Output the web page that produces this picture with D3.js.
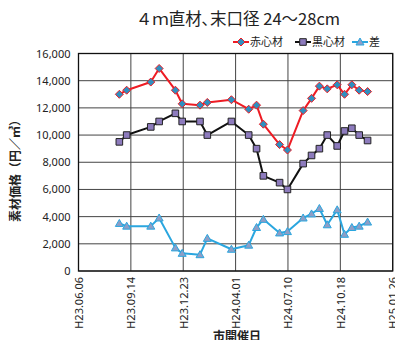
<!DOCTYPE html>
<html>
<head>
<meta charset="utf-8">
<script src="https://cdn.jsdelivr.net/npm/d3@7"></script>
<style>
  html, body { margin: 0; padding: 0; background: #fff; }
  svg { display: block; }
  text { font-family: "Noto Sans CJK JP", "Noto Sans", sans-serif; fill: #222; }
</style>
</head>
<body>
<svg id="chart" width="395" height="340"></svg>
<script>
// Market days (市開催日)
const marketDates = [
  "2011-08-23", "2011-09-06", "2011-10-22", "2011-11-07", "2011-12-08",
  "2011-12-21", "2012-01-24", "2012-02-07", "2012-03-24", "2012-04-26",
  "2012-05-11", "2012-05-24", "2012-06-24", "2012-07-09", "2012-08-08",
  "2012-08-24", "2012-09-08", "2012-09-23", "2012-10-12", "2012-10-26",
  "2012-11-09", "2012-11-23", "2012-12-09"
];
// 赤心材 prices (円/㎥)
const akashinzai = [
  13000, 13300, 13900, 14900, 13300, 12300, 12200, 12400, 12600, 11900,
  12200, 10800, 9300, 8900, 11800, 12700, 13600, 13400, 13700, 13000,
  13700, 13300, 13200
];
// 黒心材 prices (円/㎥)
const kuroshinzai = [
  9500, 10000, 10600, 11000, 11600, 11000, 11000, 10000, 11000, 10000,
  9000, 7000, 6500, 6000, 7900, 8500, 9000, 10000, 9200, 10300,
  10500, 10000, 9600
];
// 差 (difference)
const sa = [
  3500, 3300, 3300, 3900, 1700, 1300, 1200, 2400, 1600, 1900,
  3200, 3800, 2800, 2900, 3900, 4200, 4600, 3400, 4500, 2700,
  3200, 3300, 3600
];
// Axis ticks
const xTickDates = ["2011-06-06", "2011-09-14", "2011-12-23", "2012-04-01", "2012-07-10", "2012-10-18", "2013-01-26"];
const xTickLabels = ["H23.06.06", "H23.09.14", "H23.12.23", "H24.04.01", "H24.07.10", "H24.10.18", "H25.01.26"];
const yTicks = [0, 2000, 4000, 6000, 8000, 10000, 12000, 14000, 16000];

const parse = d3.utcParse("%Y-%m-%d");
const svg = d3.select("#chart");

const plot = { left: 78.5, right: 392.7, top: 53.5, bottom: 271 };

const x = d3.scaleUtc()
  .domain([parse(xTickDates[0]), parse(xTickDates[xTickDates.length - 1])])
  .range([plot.left, plot.right]);
const y = d3.scaleLinear().domain([0, 16000]).range([plot.bottom, plot.top]);

// Title
svg.append("text")
  .attr("x", 238).attr("y", 25)
  .attr("text-anchor", "middle")
  .attr("font-size", 16.5)
  .text("４ｍ直材､末口径 24～28cm");

// Gridlines
const grid = svg.append("g");
grid.selectAll("line.h").data(yTicks).join("line")
  .attr("x1", plot.left).attr("x2", plot.right)
  .attr("y1", d => y(d)).attr("y2", d => y(d))
  .attr("stroke", "#444").attr("stroke-width", 1);
grid.selectAll("line.v").data(xTickDates).join("line")
  .attr("x1", d => x(parse(d))).attr("x2", d => x(parse(d)))
  .attr("y1", plot.top).attr("y2", plot.bottom)
  .attr("stroke", "#444").attr("stroke-width", 1);

// Frame
svg.append("rect")
  .attr("x", plot.left).attr("y", plot.top)
  .attr("width", plot.right - plot.left).attr("height", plot.bottom - plot.top)
  .attr("fill", "none").attr("stroke", "#111").attr("stroke-width", 1.3);

// Y axis labels
const yAxis = d3.axisLeft(y).tickValues(yTicks).tickFormat(d3.format(",")).tickSize(0).tickPadding(8);
const yg = svg.append("g").attr("transform", `translate(${plot.left},0)`).call(yAxis);
yg.select(".domain").remove();
yg.selectAll("text").attr("font-size", 11).attr("fill", "#222")
  .style("font-family", "'Noto Sans', sans-serif");

// X axis labels (rotated)
const xAxis = d3.axisBottom(x)
  .tickValues(xTickDates.map(parse))
  .tickFormat((d, i) => xTickLabels[i])
  .tickSize(0).tickPadding(0);
const xg = svg.append("g").attr("transform", `translate(0,${plot.bottom})`).call(xAxis);
xg.select(".domain").remove();
xg.selectAll("text")
  .attr("font-size", 11).attr("fill", "#222")
  .style("font-family", "'Noto Sans', sans-serif")
  .attr("text-anchor", "end")
  .attr("dy", "0.35em")
  .attr("transform", "translate(0,6) rotate(-90)")
  .attr("x", 0).attr("y", 0);

// Axis titles
svg.append("text")
  .attr("transform", "translate(20,168) rotate(-90)")
  .attr("text-anchor", "middle")
  .attr("font-size", 12).attr("font-weight", "bold")
  .text("素材価格（円／㎥）");
svg.append("text")
  .attr("x", 237).attr("y", 341)
  .attr("text-anchor", "middle")
  .attr("font-size", 12).attr("font-weight", "bold")
  .text("市開催日");

// Series
const series = [
  { name: "赤心材", values: akashinzai, line: "#ee1c24", fill: "#2f8fbf", stroke: "#ee1c24", shape: "diamond" },
  { name: "黒心材", values: kuroshinzai, line: "#111111", fill: "#8d7bbd", stroke: "#222", shape: "square" },
  { name: "差", values: sa, line: "#2aa6df", fill: "#8e9ec6", stroke: "#2aa6df", shape: "triangle" }
];

function markerPath(shape) {
  if (shape === "diamond") return "M0,-4L4,0L0,4L-4,0Z";
  if (shape === "square") return "M-3.3,-3.3H3.3V3.3H-3.3Z";
  return "M0,-4L4,3L-4,3Z";
}

const line = d3.line().x(d => x(d.date)).y(d => y(d.v));

series.forEach(s => {
  const pts = marketDates.map((d, i) => ({ date: parse(d), v: s.values[i] }));
  const g = svg.append("g");
  g.append("path").datum(pts)
    .attr("d", line)
    .attr("fill", "none").attr("stroke", s.line).attr("stroke-width", 2)
    .attr("stroke-linejoin", "round");
  g.selectAll("path.m").data(pts).join("path")
    .attr("class", "m")
    .attr("d", markerPath(s.shape))
    .attr("transform", d => `translate(${x(d.date)},${y(d.v)})`)
    .attr("fill", s.fill).attr("stroke", s.stroke).attr("stroke-width", 1);
});

// Legend
const legendItems = [
  { s: series[0], x: 233 },
  { s: series[1], x: 295 },
  { s: series[2], x: 352 }
];
const lg = svg.append("g").attr("transform", "translate(0,42)");
legendItems.forEach(({ s, x: lx }) => {
  lg.append("line").attr("x1", lx).attr("x2", lx + 16).attr("y1", 0).attr("y2", 0)
    .attr("stroke", s.line).attr("stroke-width", 2);
  lg.append("path").attr("d", markerPath(s.shape))
    .attr("transform", `translate(${lx + 8},0)`)
    .attr("fill", s.fill).attr("stroke", s.stroke).attr("stroke-width", 1);
  lg.append("text").attr("x", lx + 17).attr("y", 4).attr("font-size", 11).text(s.name);
});
</script>
</body>
</html>
